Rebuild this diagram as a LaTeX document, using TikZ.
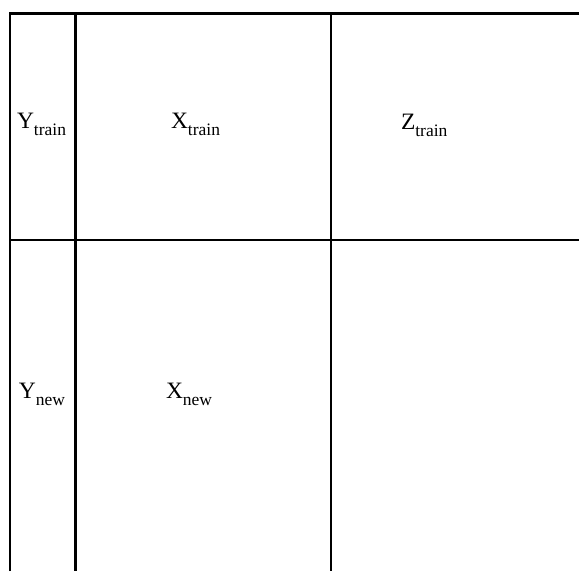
\documentclass[tikz,border=0pt]{standalone}
\usepackage{fontspec}
\setmainfont{Liberation Serif}
\newcommand{\lbl}[2]{{\fontsize{23.5}{23.5}\selectfont #1}\raisebox{-7pt}{\fontsize{17.5}{17.5}\selectfont #2}}
\tikzset{
  gridline/.style={line width=2.5pt, line cap=butt},
  lab/.style={anchor=base west, inner sep=0pt, outer sep=0pt}
}
\begin{document}
\begin{tikzpicture}[x=1pt,y=-1pt]
\useasboundingbox (0,0) rectangle (579,571);
% grid
\draw[gridline] (10,571) -- (10,13.5) -- (579,13.5);
\draw[gridline] (75.5,13.5) -- (75.5,571);
\draw[gridline] (331,13.5) -- (331,571);
\draw[gridline] (10,240) -- (579,240);
% labels
\node[lab] (ytrain) at (17,128) {\lbl{Y}{train}};
\node[lab] (xtrain) at (171,128) {\lbl{X}{train}};
\node[lab] (ztrain) at (401,129.5) {\lbl{Z}{train}};
\node[lab] (ynew) at (19,398) {\lbl{Y}{new}};
\node[lab] (xnew) at (166,398) {\lbl{X}{new}};
\end{tikzpicture}
\end{document}
